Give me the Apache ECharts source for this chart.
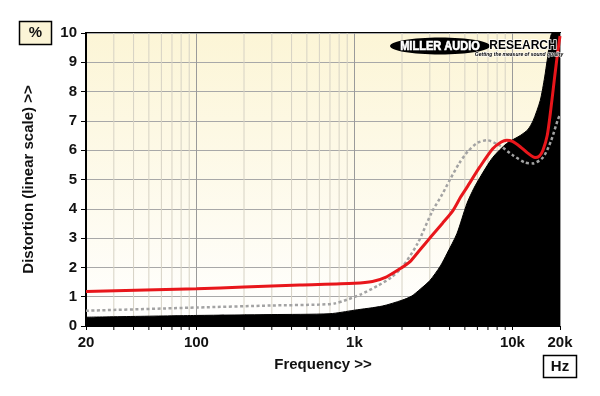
<!DOCTYPE html>
<html><head><meta charset="utf-8">
<script src="https://cdn.jsdelivr.net/npm/echarts@6/dist/echarts.min.js"></script>
<style>html,body{margin:0;padding:0;background:#fff}#c{width:600px;height:396px}</style>
</head><body><div id="c"></div>
<script>
// ---- data ----
var floorF = [20, 100, 300, 700, 1000, 1500, 2000, 2300, 2600, 3000, 3500, 3850, 4450, 5150, 5700, 6230, 7500, 9200, 11200, 12500, 13500, 15000, 16000, 16600, 17900, 20000];
var floorV = [0.30, 0.36, 0.39, 0.42, 0.54, 0.68, 0.88, 1.02, 1.25, 1.55, 2.05, 2.47, 3.15, 4.18, 4.7, 5.07, 5.75, 6.23, 6.5, 6.7, 7.0, 7.7, 8.5, 9.07, 10, 10];
var redF = [20, 100, 200, 450, 1000, 1300, 1600, 1940, 2250, 2600, 3000, 3600, 4200, 4700, 5150, 6200, 7500, 8500, 9200, 10000, 11200, 12500, 13900, 14800, 15600, 16600, 17500, 18500, 19300, 20000];
var redV = [1.18, 1.27, 1.33, 1.40, 1.46, 1.52, 1.68, 1.95, 2.2, 2.6, 3.0, 3.5, 3.94, 4.4, 4.73, 5.42, 6.05, 6.28, 6.34, 6.3, 6.12, 5.9, 5.75, 5.8, 6.0, 6.5, 7.4, 8.5, 9.3, 9.9];
var grayF = [20, 100, 300, 600, 750, 900, 1100, 1400, 1700, 2000, 2500, 3100, 3600, 4000, 4600, 5200, 6000, 6900, 8300, 10100, 12000, 13500, 15600, 17500, 19400, 20000];
var grayV = [0.52, 0.63, 0.70, 0.73, 0.77, 0.9, 1.08, 1.37, 1.65, 2.0, 2.8, 3.9, 4.5, 4.97, 5.55, 5.95, 6.25, 6.34, 6.16, 5.82, 5.58, 5.55, 5.75, 6.3, 7.05, 7.2];
var minorF = [30, 40, 50, 60, 70, 80, 90, 200, 300, 400, 500, 600, 700, 800, 900, 2000, 3000, 4000, 5000, 6000, 7000, 8000, 9000];
var yTicks = [0, 1, 2, 3, 4, 5, 6, 7, 8, 9, 10];

function zip(f, v) { return f.map(function (x, i) { return [x, v[i]]; }); }
var FONT = '"Liberation Sans", Arial, sans-serif';

var chart = echarts.init(document.getElementById('c'), null, { renderer: 'canvas' });
chart.setOption({
  animation: false,
  backgroundColor: '#ffffff',
  grid: {
    left: 86, right: 40, top: 33, bottom: 70, show: true,
    borderColor: '#000', borderWidth: 2,
    backgroundColor: { type: 'linear', x: 0, y: 0, x2: 0, y2: 1,
      colorStops: [{ offset: 0, color: '#fcf5d6' }, { offset: 1, color: '#ffffff' }] }
  },
  xAxis: {
    type: 'log', logBase: 10, min: 20, max: 20000,
    name: 'Frequency >>', nameLocation: 'middle', nameGap: 31,
    nameTextStyle: { fontFamily: FONT, fontWeight: 'bold', fontSize: 15, color: '#111' },
    axisLine: { show: true, lineStyle: { color: '#000', width: 1 } },
    axisTick: { show: true, length: 4, lineStyle: { color: '#000' } },
    axisLabel: {
      margin: 9, fontFamily: FONT, fontWeight: 'bold', fontSize: 15, color: '#111',
      formatter: function (v) { v = Math.round(v); return v >= 1000 ? (v / 1000) + 'k' : String(v); }
    },
    splitLine: { show: true, lineStyle: { color: '#9a9a9a', width: 1 } }
  },
  yAxis: {
    type: 'value', min: 0, max: 10, interval: 1,
    name: 'Distortion (linear scale) >>', nameLocation: 'middle', nameGap: 50,
    nameTextStyle: { fontFamily: FONT, fontWeight: 'bold', fontSize: 15, color: '#111' },
    axisLine: { show: true, lineStyle: { color: '#000', width: 2 } },
    axisTick: { show: true, length: 5, lineStyle: { color: '#000' } },
    axisLabel: { margin: 9, fontFamily: FONT, fontWeight: 'bold', fontSize: 15, color: '#111',
      formatter: function (v) { return yTicks.indexOf(v) >= 0 ? String(v) : ''; } },
    splitLine: { show: true, lineStyle: { color: '#a8a8a8', width: 1 } }
  },
  series: [
    {
      type: 'custom', silent: true, z: 1, clip: false,
      data: minorF.map(function (f) { return [f]; }),
      renderItem: function (params, api) {
        var b = api.coord([api.value(0), 0]);
        var t = api.coord([api.value(0), 10]);
        return { type: 'group', children: [
          { type: 'line', shape: { x1: b[0], y1: t[1], x2: b[0], y2: b[1] }, style: { stroke: '#d6d2c4', lineWidth: 1 } },
          { type: 'line', shape: { x1: b[0], y1: b[1], x2: b[0], y2: b[1] + 4 }, style: { stroke: '#000', lineWidth: 1 } }
        ] };
      }
    },
    {
      type: 'line', data: zip(floorF, floorV), smooth: 0.25,
      symbol: 'none', z: 2, lineStyle: { color: '#000', width: 1 },
      areaStyle: { color: '#000', opacity: 1, origin: 'start' }
    },
    {
      type: 'line', data: zip(grayF, grayV), smooth: 0.25,
      symbol: 'none', z: 3, lineStyle: { color: '#a3a3a3', width: 2.5, type: [3, 2.5] }
    },
    {
      type: 'line', data: zip(redF, redV), smooth: 0.25,
      symbol: 'none', z: 4, lineStyle: { color: '#e8161b', width: 3 }
    }
  ],
  graphic: [
    { type: 'rect', shape: { x: 19.5, y: 21.5, width: 32, height: 23 }, style: { fill: '#fbf4d6', stroke: '#000', lineWidth: 1.5 }, z: 100 },
    { type: 'text', x: 35.5, y: 33, style: { text: '%', font: 'bold 15px ' + FONT, fill: '#111', textAlign: 'center', textVerticalAlign: 'middle' }, z: 101 },
    { type: 'rect', shape: { x: 543.5, y: 355.5, width: 33, height: 22 }, style: { fill: '#fff', stroke: '#000', lineWidth: 1.5 }, z: 100 },
    { type: 'text', x: 560, y: 367, style: { text: 'Hz', font: 'bold 15px ' + FONT, fill: '#111', textAlign: 'center', textVerticalAlign: 'middle' }, z: 101 },
    { type: 'ellipse', shape: { cx: 440, cy: 46, rx: 50, ry: 8.5 }, style: { fill: '#000' }, z: 100 },
    { type: 'text', x: 440, y: 46.5, scaleX: 0.92, style: { text: 'MILLER AUDIO', font: 'bold 12px ' + FONT, fill: '#fff', stroke: '#fff', lineWidth: 0.6, textAlign: 'center', textVerticalAlign: 'middle' }, z: 101 },
    { type: 'text', x: 523, y: 45.5, style: { text: 'RESEARCH', font: 'bold 12px ' + FONT, fill: '#000', stroke: '#fff', lineWidth: 1.5, textAlign: 'center', textVerticalAlign: 'middle' }, z: 101 },
    { type: 'text', x: 519, y: 55, style: { text: 'Getting the measure of sound quality', font: 'italic bold 5px ' + FONT, fill: '#000', stroke: '#fff', lineWidth: 0.8, textAlign: 'center', textVerticalAlign: 'middle' }, z: 101 }
  ]
});
</script></body></html>
